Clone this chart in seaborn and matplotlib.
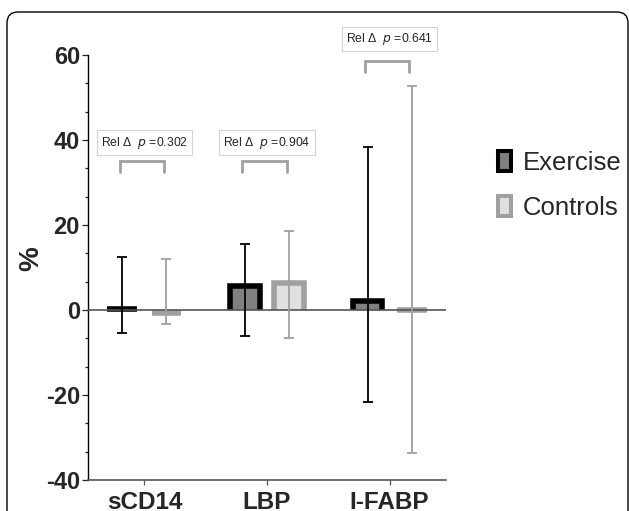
import numpy as np
import pandas as pd
import matplotlib.pyplot as plt
import seaborn as sns
from matplotlib.patches import Patch, FancyBboxPatch, Rectangle
from matplotlib.ticker import MultipleLocator, AutoMinorLocator
from matplotlib.transforms import IdentityTransform

# data
markers = ["sCD14", "LBP", "I-FABP"]
groups = ["Exercise", "Controls"]
exercise_mean = [0.6, 6.3, 2.8]
controls_mean = [-1.2, 6.9, -0.2]
exercise_low = [-5.3, -6.2, -21.7]
exercise_high = [12.4, 15.5, 38.4]
controls_low = [-3.2, -6.7, -33.6]
controls_high = [12.1, 18.7, 52.6]
p_labels = ["0.302", "0.904", "0.641"]
p_text_y = [39.4, 39.4, 63.8]
bracket_top = [35.1, 35.1, 58.6]
bracket_foot = [32.4, 32.4, 55.9]

face = {"Exercise": "#808080", "Controls": "#e0e0e0"}
edge = {"Exercise": "#000000", "Controls": "#a0a0a0"}

df = pd.DataFrame({
    "marker": markers * 2,
    "group": ["Exercise"] * 3 + ["Controls"] * 3,
    "value": exercise_mean + controls_mean,
})
lows = {"Exercise": exercise_low, "Controls": controls_low}
highs = {"Exercise": exercise_high, "Controls": controls_high}
means = {"Exercise": exercise_mean, "Controls": controls_mean}

sns.set_style("ticks")
plt.rcParams["font.family"] = ["Liberation Sans", "DejaVu Sans"]
plt.rcParams["axes.unicode_minus"] = False

DPI = 100
fig = plt.figure(figsize=(6.29, 5.11), dpi=DPI)
ax = fig.add_axes([88 / 629, 1 - 480 / 511, (446 - 88) / 629, (480 - 55) / 511])

sns.barplot(data=df, x="marker", y="value", hue="group", hue_order=groups,
            palette=face, width=0.72, gap=0.2, errorbar=None, legend=False, ax=ax)

ax.set_xlim(-0.46, 2.46)
ax.set_ylim(-40, 60)

# Prism-style bars: border drawn inside the outline, no border along the baseline
edge_lw = 4.0  # pt
lw_px = edge_lw * DPI / 72
lw_x = lw_px * 2.92 / (446 - 88)
lw_y = lw_px * 100 / (480 - 55)

centers = {}
for grp, cont in zip(groups, ax.containers):
    xs = []
    for i, bar in enumerate(cont):
        m = means[grp][i]
        x, w = bar.get_x(), bar.get_width()
        cx = x + w / 2
        bar.set_x(cx - (w - lw_x) / 2)
        bar.set_width(w - lw_x)
        if abs(m) > lw_y:
            s = np.sign(m)
            bar.set_y(-s * lw_y / 2)
            bar.set_height(m)
            bar.set_clip_path(Rectangle((-1, 0), 5, 100 * s, transform=ax.transData))
        else:
            bar.set_y(m / 2)
            bar.set_height(0)
        bar.set_edgecolor(edge[grp])
        bar.set_facecolor(face[grp])
        bar.set_linewidth(edge_lw)
        bar.set_joinstyle("miter")
        bar.set_zorder(2)
        xs.append(cx)
        ax.errorbar(cx, m, yerr=[[m - lows[grp][i]], [highs[grp][i] - m]],
                    fmt="none", ecolor=edge[grp], elinewidth=1.3,
                    capsize=3.3, capthick=1.3, zorder=4)
    centers[grp] = xs

ax.axhline(0, color="#555555", lw=1.2, zorder=3)

# significance brackets and p-value boxes
for i in range(len(markers)):
    x0 = centers["Exercise"][i] - 0.02
    x1 = centers["Controls"][i] - 0.02
    ax.plot([x0, x0, x1, x1], [bracket_foot[i], bracket_top[i], bracket_top[i], bracket_foot[i]],
            color="#a0a0a0", lw=2.0, clip_on=False, solid_joinstyle="miter", zorder=4)
    ax.text(i, p_text_y[i], "Rel \u0394  $\\it{p}$ =" + p_labels[i], ha="center", va="center",
            fontsize=8.8, clip_on=False,
            bbox=dict(boxstyle="square,pad=0.35", fc="white", ec="#d4d4d4", lw=0.8))

ax.yaxis.set_major_locator(MultipleLocator(20))
ax.yaxis.set_minor_locator(AutoMinorLocator(3))
ax.set_xlabel("")
ax.set_ylabel("%", fontsize=20, fontweight="bold")
ax.yaxis.set_label_coords(-0.122, 0.52)

for lab in ax.get_yticklabels():
    lab.set_fontweight("bold")
for lab in ax.get_xticklabels():
    lab.set_fontweight("bold")
ax.tick_params(axis="y", which="major", labelsize=17, length=4.3, width=0.9, pad=1.5)
ax.tick_params(axis="y", which="minor", length=2.2, width=0.9)
ax.tick_params(axis="x", labelsize=17.5, length=3.6, width=0.9, color="#555555", pad=4.5)

sns.despine(ax=ax)
ax.spines["left"].set_linewidth(1.0)
ax.spines["left"].set_color("black")
ax.spines["bottom"].set_linewidth(1.2)
ax.spines["bottom"].set_color("#555555")

handles = [Patch(facecolor=face[g], edgecolor=edge[g], linewidth=2.9, label=g) for g in groups]
fig.legend(handles=handles, loc="upper left", bbox_to_anchor=(498 / 629, 1 - 151 / 511),
           frameon=False, fontsize=18.5, handlelength=0.5, handleheight=0.85,
           handletextpad=0.45, labelspacing=0.8, borderpad=0, borderaxespad=0)

# rounded frame around the panel (cut on right and bottom)
frame = FancyBboxPatch((7, -30), 621, 511 - 12 + 30, boxstyle="round,pad=0,rounding_size=11",
                       transform=IdentityTransform(), fc="none", ec="black", lw=1.0)
fig.patches.append(frame)

fig.savefig("out.png", dpi=DPI)
